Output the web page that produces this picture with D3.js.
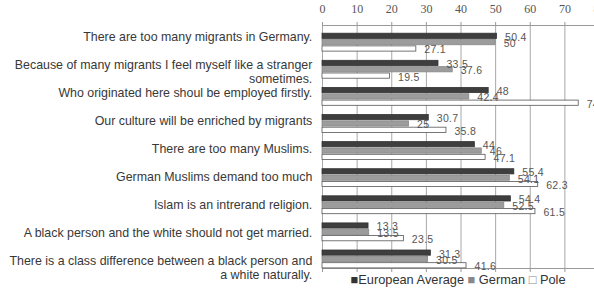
<!DOCTYPE html>
<html>
<head>
<meta charset="utf-8">
<script src="https://cdn.jsdelivr.net/npm/d3@7"></script>
<style>
  html, body { margin: 0; padding: 0; background: #fff; }
  svg { display: block; }
</style>
</head>
<body>
<svg id="chart" width="594" height="291"></svg>
<script>
const categories = [
  "There are too many migrants in Germany.",
  "Because of many migrants I feel myself like a stranger\nsometimes.",
  "Who originated here shoul be employed firstly.",
  "Our culture will be enriched by migrants",
  "There are too many Muslims.",
  "German Muslims demand too much",
  "Islam is an intrerand religion.",
  "A black person and the white should not get married.",
  "There is a class difference between a black person and\na white naturally."
];
const seriesNames = ["European Average", "German", "Pole"];
const european = [50.4, 33.5, 48, 30.7, 44, 55.4, 54.4, 13.3, 31.3];
const german   = [50, 37.6, 42.4, 25, 46, 54.1, 52.5, 13.5, 30.5];
const pole     = [27.1, 19.5, 74, 35.8, 47.1, 62.3, 61.5, 23.5, 41.6];
const tickValues = [0, 10, 20, 30, 40, 50, 60, 70, 80];

const seriesData = [european, german, pole];
const fills = ["#3e3e3e", "#9c9c9c", "#ffffff"];
const strokes = ["#333", "#888", "#555"];

const svg = d3.select("#chart");

const x = d3.scaleLinear().domain([0, 80]).range([322, 599]);
const step = 27.1;
const y0 = d3.scaleBand().domain(categories).range([32.7, 32.7 + step * categories.length]).padding(0);
const y1 = d3.scaleBand().domain(seriesNames).range([0, 18.4]).paddingInner(0.1);
const labelY = d3.scalePoint().domain(categories).range([40.5, 40.5 + 28 * (categories.length - 1)]);

// gridlines
const gridTop = 25, gridBottom = 268;
svg.append("g")
  .attr("transform", `translate(0,${gridBottom})`)
  .call(d3.axisBottom(x).tickValues(tickValues).tickSize(-(gridBottom - gridTop)).tickFormat(""))
  .call(g => g.select(".domain").remove())
  .call(g => g.selectAll(".tick line").attr("stroke", "#a8a8a8").attr("stroke-width", 1));

// bottom axis ticks
svg.append("g")
  .attr("transform", `translate(0,${gridBottom})`)
  .call(d3.axisBottom(x).tickValues(tickValues).tickSizeInner(4).tickSizeOuter(0).tickFormat(""))
  .call(g => g.select(".domain").attr("stroke", "#999"))
  .call(g => g.selectAll(".tick line").attr("stroke", "#999"));

// top axis
svg.append("g")
  .attr("transform", `translate(0,${gridTop})`)
  .call(d3.axisTop(x).tickValues(tickValues).tickSizeInner(3).tickSizeOuter(0).tickPadding(9).tickFormat(d => String(d)))
  .call(g => g.select(".domain").attr("stroke", "#999"))
  .call(g => g.selectAll(".tick line").attr("stroke", "#999"))
  .call(g => g.selectAll(".tick text")
    .attr("font-family", "'Liberation Serif', 'DejaVu Serif', serif")
    .attr("font-size", 12)
    .attr("fill", "#555"));

// bars
const rows = categories.map((c, i) => ({ c, vals: seriesData.map((s, k) => ({ k, name: seriesNames[k], v: s[i] })) }));
const groups = svg.append("g").selectAll("g").data(rows).join("g")
  .attr("transform", d => `translate(0,${y0(d.c)})`);

groups.selectAll("rect").data(d => d.vals).join("rect")
  .attr("x", x(0))
  .attr("y", d => y1(d.name) + 0.5)
  .attr("width", d => x(d.v) - x(0))
  .attr("height", y1.bandwidth() - 0.5)
  .attr("fill", d => fills[d.k])
  .attr("stroke", d => strokes[d.k])
  .attr("stroke-width", 0.8);

groups.selectAll("text").data(d => d.vals).join("text")
  .attr("x", d => x(d.v) + 8.5)
  .attr("y", d => y1(d.name) + y1.bandwidth() / 2 + 1.5)
  .attr("dy", "0.35em")
  .attr("font-family", "'Liberation Sans', Arial, sans-serif")
  .attr("font-size", 10.5)
  .attr("letter-spacing", 0.3)
  .attr("fill", "#555")
  .text(d => String(d.v));

// category labels
const catG = svg.append("g")
  .attr("font-family", "'Liberation Sans', Arial, sans-serif")
  .attr("font-size", 12.4)
  .attr("fill", "#383838")
  .attr("text-anchor", "end");
catG.selectAll("text").data(categories).join("text")
  .attr("x", 312.3)
  .attr("y", d => labelY(d))
  .each(function(d) {
    const lines = d.split("\n");
    d3.select(this).selectAll("tspan").data(lines).join("tspan")
      .attr("x", 312.3)
      .attr("dy", (l, j) => j === 0 ? 0 : 14.3)
      .text(l => l);
  });

// legend
const legend = svg.append("text")
  .attr("x", 350.5)
  .attr("y", 284)
  .attr("font-family", "'Liberation Sans', Arial, sans-serif")
  .attr("font-size", 12.8)
  .attr("fill", "#333");
const legendMarks = ["\u25A0", "\u25A0", "\u25A1"];
const markFills = ["#333", "#888", "#888"];
seriesNames.forEach((n, k) => {
  legend.append("tspan").attr("fill", markFills[k]).text((k === 0 ? "" : " ") + legendMarks[k]);
  legend.append("tspan").attr("fill", "#333").text((k === 0 ? "" : " ") + n);
});
</script>
</body>
</html>
